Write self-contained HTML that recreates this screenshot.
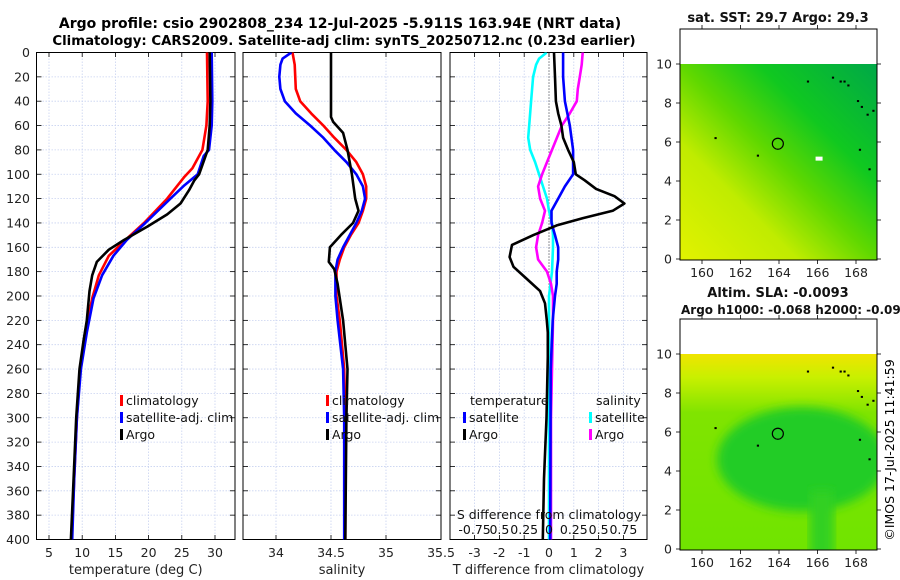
<!DOCTYPE html>
<html><head><meta charset="utf-8">
<style>
body{margin:0;background:#fff;}
svg{display:block;font-family:"DejaVu Sans","Liberation Sans",sans-serif;}
</style></head>
<body>
<svg id="fig" width="900" height="580" viewBox="0 0 900 580">
<defs>
<clipPath id="c1"><rect x="36.5" y="52.5" width="198.5" height="487"/></clipPath>
<clipPath id="c2"><rect x="243" y="52.5" width="198" height="487"/></clipPath>
<clipPath id="c3"><rect x="450" y="52.5" width="197" height="487"/></clipPath>
<clipPath id="cm1"><rect x="680" y="64" width="197" height="196"/></clipPath>
<clipPath id="cm2"><rect x="680" y="354" width="197" height="196"/></clipPath>
<linearGradient id="g1" x1="0" y1="1" x2="1" y2="0">
<stop offset="0" stop-color="#e2f200"/><stop offset="0.3" stop-color="#c0ec00"/><stop offset="0.5" stop-color="#60d800"/><stop offset="0.7" stop-color="#10c820"/><stop offset="1" stop-color="#00a848"/>
</linearGradient>
<linearGradient id="g2" x1="0" y1="0" x2="0" y2="1">
<stop offset="0" stop-color="#f0e400"/><stop offset="0.12" stop-color="#c8f000"/><stop offset="0.3" stop-color="#80e400"/><stop offset="1" stop-color="#70e400"/>
</linearGradient>
<filter id="bl"><feGaussianBlur stdDeviation="5"/></filter>
</defs>
<text x="340" y="28" text-anchor="middle" font-weight="bold" font-size="14">Argo profile: csio 2902808_234 12-Jul-2025 -5.911S 163.94E (NRT data)</text>
<text x="344" y="45" text-anchor="middle" font-weight="bold" font-size="13.3">Climatology: CARS2009. Satellite-adj clim: synTS_20250712.nc (0.23d earlier)</text>
<g id="panels"></g>
<g id="maps"></g>
<text transform="translate(894,450) rotate(-90)" text-anchor="middle" font-size="12.5">©IMOS 17-Jul-2025 11:41:59</text>
</svg>
<script>
// ---- data ----
const depthTicks=[0,20,40,60,80,100,120,140,160,180,200,220,240,260,280,300,320,340,360,380,400];
const tTicks=[5,10,15,20,25,30];
const sTicks=[34,34.5,35,35.5];
const sTickLabels=["34","34.5","35","35.5"];
const dtTicks=[-3,-2,-1,0,1,2,3];
const dtTickLabels=["-3","-2","-1","0","1","2","3"];
const dsTicks=[-0.75,-0.5,-0.25,0,0.25,0.5,0.75];
const dsTickLabels=["-0.75","0.5","0.25","0","0.25","0.5","0.75"];

const tArgoDepth=[0,40,60,80,100,105,113,124,133,143,154,162,172,183,196,220,237,260,300,350,400];
const tArgo=[29.2,29.3,29.2,28.9,27.6,26.9,26.1,24.8,22.8,19.8,16.3,14.0,12.2,11.5,11.1,10.7,10.2,9.6,9.1,8.7,8.3];
const tClimDepth=[0,40,60,80,95,102,120,140,154,167,183,202,230,260,300,350,400];
const tClim=[28.8,28.9,28.7,28.1,26.6,25.4,22.8,19.3,16.5,14.0,12.5,11.5,10.5,9.7,9.2,8.8,8.4];
const tSatDepth=[0,40,60,80,85,100,109,120,140,154,167,183,202,230,260,300,350,400];
const tSat=[29.5,29.6,29.5,29.1,28.3,27.4,25.4,23.3,19.5,16.7,14.7,13.0,11.7,10.7,9.8,9.2,8.8,8.5];

const sArgoDepth=[0,53,57,66,80,100,120,130,140,150,160,172,178,190,220,260,300,400];
const sArgo=[34.5,34.5,34.52,34.61,34.65,34.69,34.72,34.75,34.70,34.59,34.49,34.48,34.53,34.56,34.61,34.65,34.64,34.63];
const sClimDepth=[0,10,30,40,50,60,70,80,90,100,110,120,130,140,150,160,170,180,200,220,260,300,400];
const sClim=[34.15,34.17,34.18,34.22,34.32,34.43,34.53,34.64,34.73,34.79,34.82,34.82,34.79,34.75,34.68,34.62,34.58,34.55,34.55,34.58,34.62,34.63,34.63];
const sSatDepth=[0,5,10,20,30,40,50,60,70,80,90,100,110,120,130,140,150,160,170,180,200,220,260,300,400];
const sSat=[34.14,34.06,34.04,34.03,34.04,34.08,34.18,34.31,34.43,34.53,34.64,34.73,34.79,34.81,34.78,34.73,34.67,34.61,34.56,34.54,34.54,34.56,34.61,34.62,34.62];

const dtArgoDepth=[0,20,40,50,60,70,80,90,100,105,112,118,124,130,136,142,150,158,168,176,186,196,206,220,230,250,300,350,400];
const dtArgo=[0.2,0.24,0.28,0.37,0.5,0.57,0.77,1.0,1.08,1.44,1.9,2.64,3.04,2.57,1.37,0.31,-0.63,-1.49,-1.59,-1.43,-0.89,-0.36,-0.16,-0.09,-0.05,-0.05,-0.1,-0.2,-0.25];
const dtSatDepth=[0,20,40,60,80,100,110,120,130,140,150,160,170,180,190,200,220,260,400];
const dtSat=[0.57,0.57,0.64,0.84,0.97,0.97,0.64,0.37,0.1,0.1,0.24,0.37,0.37,0.31,0.31,0.24,0.15,0.07,0.05];
const dsSatDepth=[0,5,10,20,40,60,70,80,90,100,110,120,130,140,150,160,180,200,220,400];
const dsSat=[-0.023,-0.1,-0.13,-0.16,-0.18,-0.2,-0.21,-0.19,-0.14,-0.1,-0.06,-0.02,0,0.03,0.04,0.04,0.03,0.0,0.0,0.0];
const dsArgoDepth=[0,10,20,30,40,50,60,70,80,90,100,110,120,130,140,150,160,170,180,190,200,220,300,400];
const dsArgo=[0.34,0.33,0.31,0.29,0.28,0.21,0.13,0.08,0.03,-0.02,-0.07,-0.11,-0.09,-0.04,-0.07,-0.11,-0.13,-0.11,-0.02,0.02,0.04,0.04,0.02,0.02];

const mapXTicks=[160,162,164,166,168];
const mapYTicks=[0,2,4,6,8,10];
const argoLon=[163.94];
const argoLat=[5.911];
const islandLon=[160.7,162.9,165.5,166.8,167.2,167.4,167.6,168.1,168.3,168.6,168.9,168.7,168.2];
const islandLat=[6.2,5.3,9.1,9.3,9.1,9.1,8.9,8.1,7.8,7.4,7.6,4.6,5.6];

// ---- scales ----
const NS="http://www.w3.org/2000/svg";
const yD=d=>52.5+d*1.2175;
const xT=v=>49+(v-5)*6.64;
const xS=v=>276+(v-34)*110;
const xDT=v=>549+v*24.8;
const xDS=v=>549+v*99.2;
const mx=v=>702+(v-160)*19.25;
const my1=v=>259-v*19.5;
const my2=v=>549-v*19.5;

function mk(tag,attrs,parent){const e=document.createElementNS(NS,tag);for(const k in attrs)e.setAttribute(k,attrs[k]);parent.appendChild(e);return e;}
const panels=document.getElementById('panels');
const maps=document.getElementById('maps');

function panelFrame(x0,x1,xticks,xfun,labels,name,title){
  const g=mk('g',{},panels);
  
  
  xticks.forEach((t,i)=>{const x=xfun(t);
    if(x>x0+1&&x<x1-1){const l=mk('line',{x1:x,x2:x,y1:52.5,y2:539.5,stroke:'#c8d2f0','stroke-width':0.8,'stroke-dasharray':'1.5,1.5'},g);
      
      mk('line',{x1:x,x2:x,y1:539.5,y2:535,stroke:'#000','stroke-width':0.8},g);
      mk('line',{x1:x,x2:x,y1:52.5,y2:57,stroke:'#000','stroke-width':0.8},g);}
    const tx=mk('text',{x:x,y:557,'text-anchor':'middle','font-size':12.5,fill:'#222'},g);
    tx.textContent=labels[i];
    
  });
  depthTicks.forEach(d=>{const y=yD(d);
    if(d>0&&d<400){const l=mk('line',{x1:x0,x2:x1,y1:y,y2:y,stroke:'#c8d2f0','stroke-width':0.8,'stroke-dasharray':'1.5,1.5'},g);
      }
    mk('line',{x1:x0,x2:x0+5,y1:y,y2:y,stroke:'#000','stroke-width':0.8},g);
    mk('line',{x1:x1-5,x2:x1,y1:y,y2:y,stroke:'#000','stroke-width':0.8},g);
  });
  const r=mk('rect',{x:x0,y:52.5,width:x1-x0,height:487,fill:'none',stroke:'#000','stroke-width':1},g);
  
  const tt=mk('text',{x:(x0+x1)/2,y:574,'text-anchor':'middle','font-size':13,fill:'#222'},g);
  tt.textContent=title;
  
  return g;
}
function series(g,depths,vals,xf,color,clip,name,w){
  const pts=depths.map((d,i)=>xf(vals[i]).toFixed(1)+','+yD(d).toFixed(1)).join(' ');
  const p=mk('polyline',{points:pts,fill:'none',stroke:color,'stroke-width':w||2.6,'stroke-linejoin':'round','clip-path':'url(#'+clip+')'},g);
  
  
}
function legend(g,x,y,color,text,name){
  const r=mk('rect',{x:x,y:y-10,width:3,height:11,fill:color},g);
  
  const t=mk('text',{x:x+6,y:y,'font-size':12.5,fill:'#111'},g);
  t.textContent=text;
  
}

// panel 1 temperature
const g1=panelFrame(36.5,235,tTicks,xT,tTicks.map(String),'temperature-panel','temperature (deg C)');
depthTicks.forEach(d=>{const t=mk('text',{x:30,y:yD(d)+4.5,'text-anchor':'end','font-size':12.5,fill:'#222'},g1);t.textContent=d;
  });
series(g1,tClimDepth,tClim,xT,'#ff0000','c1','temp-climatology-line');
series(g1,tSatDepth,tSat,xT,'#0000ff','c1','temp-satellite-clim-line');
series(g1,tArgoDepth,tArgo,xT,'#000000','c1','temp-argo-line');
legend(g1,120,405,'#ff0000','climatology','legend-climatology');
legend(g1,120,422,'#0000ff','satellite-adj. clim','legend-satellite-clim');
legend(g1,120,439,'#000000','Argo','legend-argo');

// panel 2 salinity
const g2=panelFrame(243,441,sTicks,xS,sTickLabels,'salinity-panel','salinity');
series(g2,sClimDepth,sClim,xS,'#ff0000','c2','sal-climatology-line');
series(g2,sSatDepth,sSat,xS,'#0000ff','c2','sal-satellite-clim-line');
series(g2,sArgoDepth,sArgo,xS,'#000000','c2','sal-argo-line');
legend(g2,326,405,'#ff0000','climatology','legend-climatology');
legend(g2,326,422,'#0000ff','satellite-adj. clim','legend-satellite-clim');
legend(g2,326,439,'#000000','Argo','legend-argo');

// panel 3 differences
const g3=panelFrame(450,647,dtTicks,xDT,dtTickLabels,'difference-panel','T difference from climatology');
const z=mk('line',{x1:549,x2:549,y1:52.5,y2:539.5,stroke:'#333','stroke-width':1,'stroke-dasharray':'1,2'},g3);

series(g3,dsSatDepth,dsSat,xDS,'#00ffff','c3','sal-diff-satellite-line');
series(g3,dsArgoDepth,dsArgo,xDS,'#ff00ff','c3','sal-diff-argo-line');
series(g3,dtSatDepth,dtSat,xDT,'#0000ff','c3','temp-diff-satellite-line');
series(g3,dtArgoDepth,dtArgo,xDT,'#000000','c3','temp-diff-argo-line');
let tl=mk('text',{x:470,y:405,'font-size':12.5,fill:'#111'},g3);tl.textContent='temperature';

tl=mk('text',{x:596,y:405,'font-size':12.5,fill:'#111'},g3);tl.textContent='salinity';

legend(g3,463,422,'#0000ff','satellite','legend-temp-satellite');
legend(g3,463,439,'#000000','Argo','legend-temp-argo');
legend(g3,589,422,'#00ffff','satellite','legend-sal-satellite');
legend(g3,589,439,'#ff00ff','Argo','legend-sal-argo');
tl=mk('text',{x:549,y:519,'text-anchor':'middle','font-size':12.5,fill:'#111'},g3);tl.textContent='S difference from climatology';

dsTicks.forEach((t,i)=>{const x=xDS(t);
  const tx=mk('text',{x:x,y:534,'text-anchor':'middle','font-size':12.5,fill:'#111'},g3);tx.textContent=dsTickLabels[i];
  });

// maps
function mapAxes(g,top,bot,ymap){
  const r=mk('rect',{x:680,y:top,width:197,height:bot-top,fill:'none',stroke:'#000','stroke-width':1},g);
  
  mapXTicks.forEach(t=>{const x=mx(t);
    mk('line',{x1:x,x2:x,y1:bot,y2:bot+4,stroke:'#000','stroke-width':0.8},g);
    mk('line',{x1:x,x2:x,y1:top,y2:top-4,stroke:'#000','stroke-width':0.8},g);
    const tx=mk('text',{x:x,y:bot+17,'text-anchor':'middle','font-size':12.5,fill:'#222'},g);tx.textContent=t;
    });
  mapYTicks.forEach(t=>{const y=ymap(t);
    mk('line',{x1:680,x2:676,y1:y,y2:y,stroke:'#000','stroke-width':0.8},g);
    mk('line',{x1:877,x2:881,y1:y,y2:y,stroke:'#000','stroke-width':0.8},g);
    const tx=mk('text',{x:672,y:y+4.5,'text-anchor':'end','font-size':12.5,fill:'#222'},g);tx.textContent=t;
    });
  islandLon.forEach((lo,i)=>{const d=mk('rect',{x:mx(lo)-1,y:ymap(islandLat[i])-1,width:2.2,height:2,fill:'#000'},g);
    });
  const c=mk('circle',{cx:mx(argoLon[0]),cy:ymap(argoLat[0]),r:5.5,fill:'none',stroke:'#000','stroke-width':1.2},g);
  
}
const m1=mk('g',{},maps);


mk('rect',{x:680,y:64,width:197,height:196,fill:'url(#g1)'},m1);
mk('rect',{x:mx(165.9),y:my1(5.25),width:7,height:4,fill:'#fff'},m1);
mapAxes(m1,29,260,my1);
let mt=mk('text',{x:778,y:22,'text-anchor':'middle','font-weight':'bold','font-size':13,fill:'#111'},m1);mt.textContent='sat. SST: 29.7 Argo: 29.3';


const m2=mk('g',{},maps);


const mg=mk('g',{'clip-path':'url(#cm2)'},m2);
mk('rect',{x:680,y:354,width:197,height:196,fill:'url(#g2)'},mg);
mk('ellipse',{cx:mx(165.2),cy:my2(4.6),rx:85,ry:52,fill:'#20cc28',filter:'url(#bl)'},mg);
mk('rect',{x:mx(165.6),y:my2(3),width:24,height:70,fill:'#30d024',filter:'url(#bl)'},mg);
mapAxes(m2,319,550,my2);
mt=mk('text',{x:778,y:297,'text-anchor':'middle','font-weight':'bold','font-size':13,fill:'#111'},m2);mt.textContent='Altim. SLA: -0.0093';

mt=mk('text',{x:681,y:314,'font-weight':'bold','font-size':12,fill:'#111'},m2);mt.textContent='Argo h1000: -0.068 h2000: -0.096';

</script>
</body></html>
